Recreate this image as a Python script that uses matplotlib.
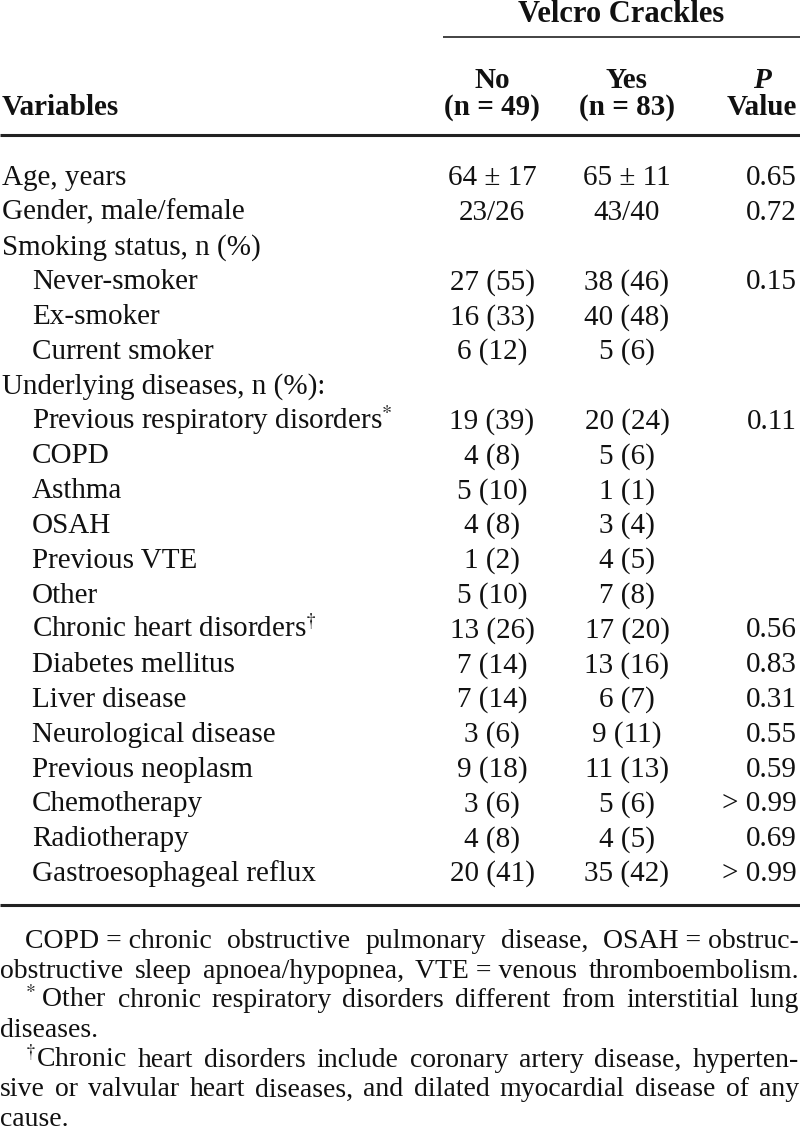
import matplotlib.pyplot as plt

plt.rcParams['font.family'] = ['Liberation Serif', 'DejaVu Serif']
plt.rcParams['mathtext.fontset'] = 'stix'

# table data
labels = ['Age, years', 'Gender, male/female', 'Smoking status, n (%)',
          'Never-smoker', 'Ex-smoker', 'Current smoker',
          'Underlying diseases, n (%):',
          'Previous respiratory disorders$^{*}$', 'COPD', 'Asthma', 'OSAH',
          'Previous VTE', 'Other', 'Chronic heart disorders$^{\\dagger}$',
          'Diabetes mellitus', 'Liver disease', 'Neurological disease',
          'Previous neoplasm', 'Chemotherapy', 'Radiotherapy',
          'Gastroesophageal reflux']
indented = [0, 0, 0, 1, 1, 1, 0, 1, 1, 1, 1, 1, 1, 1, 1, 1, 1, 1, 1, 1, 1]
no_vals = ['64 ± 17', '23/26', '', '27 (55)', '16 (33)', '6 (12)', '',
           '19 (39)', '4 (8)', '5 (10)', '4 (8)', '1 (2)', '5 (10)',
           '13 (26)', '7 (14)', '7 (14)', '3 (6)', '9 (18)', '3 (6)',
           '4 (8)', '20 (41)']
yes_vals = ['65 ± 11', '43/40', '', '38 (46)', '40 (48)', '5 (6)', '',
            '20 (24)', '5 (6)', '1 (1)', '3 (4)', '4 (5)', '7 (8)',
            '17 (20)', '13 (16)', '6 (7)', '9 (11)', '11 (13)', '5 (6)',
            '4 (5)', '35 (42)']
p_vals = ['0.65', '0.72', '', '0.15', '', '', '', '0.11', '', '', '', '',
          '', '0.56', '0.83', '0.31', '0.55', '0.59', '> 0.99', '0.69',
          '> 0.99']

footnotes = [
    (1, True, 'COPD = chronic obstructive pulmonary disease, OSAH = obstruc-'),
    (0, True, 'obstructive sleep apnoea/hypopnea, VTE = venous thromboembolism.'),
    (1, True, '$^{*}$\u2009Other chronic respiratory disorders different from interstitial lung'),
    (0, False, 'diseases.'),
    (1, True, '$^{\\dagger}$Chronic heart disorders include coronary artery disease, hyperten-'),
    (0, True, 'sive or valvular heart diseases, and dilated myocardial disease of any'),
    (0, False, 'cause.'),
]

fig = plt.figure(figsize=(8, 11.33), dpi=100)
ax = fig.add_axes([0, 0, 1, 1])
ax.set_xlim(0, 800)
ax.set_ylim(1133, 0)
ax.axis('off')
renderer = fig.canvas.get_renderer()

fs = 21
xno, xyes, xp = 492, 627, 797
ink = '#111111'

# header
ax.text(621, 22, 'Velcro Crackles', fontsize=22, fontweight='bold', ha='center', va='baseline', color=ink)
ax.plot([443, 800], [37, 37], color='#222222', lw=1.2, solid_capstyle='butt')
ax.text(xno, 88, 'No', fontsize=fs, fontweight='bold', ha='center', va='baseline', color=ink)
ax.text(xyes, 88, 'Yes', fontsize=fs, fontweight='bold', ha='center', va='baseline', color=ink)
ax.text(762, 88, 'P', fontsize=fs, fontweight='bold', style='italic', ha='center', va='baseline', color=ink)
ax.text(xno, 115, '(n = 49)', fontsize=fs, fontweight='bold', ha='center', va='baseline', color=ink)
ax.text(xyes, 115, '(n = 83)', fontsize=fs, fontweight='bold', ha='center', va='baseline', color=ink)
ax.text(762, 115, 'Value', fontsize=fs, fontweight='bold', ha='center', va='baseline', color=ink)
ax.text(2, 115, 'Variables', fontsize=fs, fontweight='bold', ha='left', va='baseline', color=ink)
ax.plot([0, 800], [135, 135], color='#222222', lw=2.2, solid_capstyle='butt')

# body rows
for i in range(len(labels)):
    y = 177 + 34.8 * i + 8
    ax.text(32 if indented[i] else 2, y, labels[i], fontsize=fs, ha='left', va='baseline', color=ink)
    ax.text(xno, y, no_vals[i], fontsize=fs, ha='center', va='baseline', color=ink)
    ax.text(xyes, y, yes_vals[i], fontsize=fs, ha='center', va='baseline', color=ink)
    ax.text(xp, y, p_vals[i], fontsize=fs, ha='right', va='baseline', color=ink)

ax.plot([0, 800], [905, 905], color='#222222', lw=2.2, solid_capstyle='butt')

# footnotes, justified by hand
ffs = 20
for k, (ind, just, line) in enumerate(footnotes):
    y = 941 + 29.7 * k + 7
    x0 = 25 if ind else 0
    if not just:
        ax.text(x0, y, line, fontsize=ffs, ha='left', va='baseline', color=ink)
        continue
    words = line.replace(' = ', '\u00a0=\u00a0').split(' ')
    words = [w.replace('\u00a0', ' ') for w in words]
    ts = [ax.text(0, y, w, fontsize=ffs, ha='left', va='baseline', color=ink) for w in words]
    widths = [t.get_window_extent(renderer).width for t in ts]
    gap = (799 - x0 - sum(widths)) / (len(words) - 1)
    x = x0
    for t, w in zip(ts, widths):
        t.set_x(x)
        x += w + gap

plt.savefig('out.png', dpi=100)
